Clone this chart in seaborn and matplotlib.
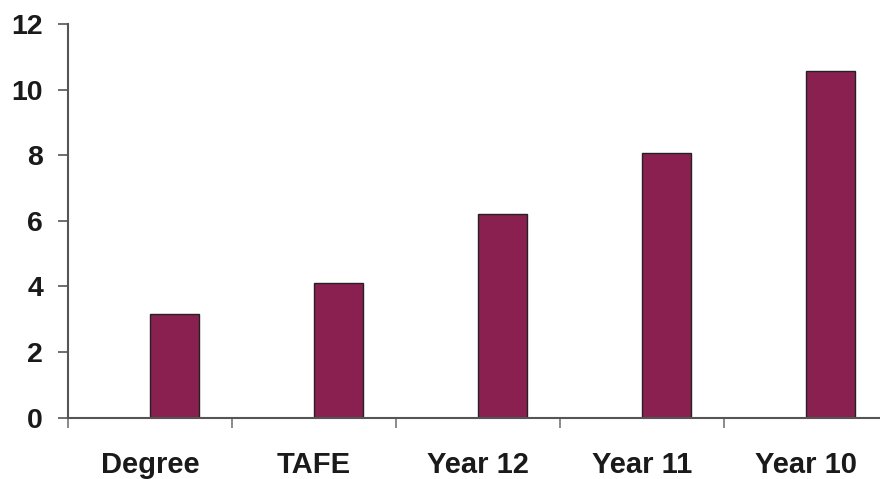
import matplotlib
matplotlib.use("Agg")
import matplotlib.pyplot as plt
import seaborn as sns
import pandas as pd
import numpy as np

categories = ["Degree", "TAFE", "Year 12", "Year 11", "Year 10"]
values = [3.15, 4.11, 6.21, 8.06, 10.58]
series = ["B"] * len(categories)
yticks = [0, 2, 4, 6, 8, 10, 12]

df = pd.DataFrame({"category": categories, "value": values, "series": series})

sns.set_style("white")
plt.rcParams["font.family"] = ["Liberation Sans", "DejaVu Sans"]

fig = plt.figure(figsize=(8.8, 4.79), dpi=100)
ax = fig.add_axes([68 / 880, 1 - 417.5 / 479, 1 - 68 / 880, (417.5 - 24) / 479])

bar_color = "#8A2050"
sns.barplot(data=df, x="category", y="value", hue="series", hue_order=["A", "B"],
            order=categories, palette={"A": bar_color, "B": bar_color},
            width=0.6, dodge=True, edgecolor="#222222", linewidth=1.0,
            saturation=1, legend=False, ax=ax, errorbar=None)

ax.set_xlim(-0.5, 4.45)
ax.set_ylim(0, 12)
ax.set_yticks(yticks)
ax.set_yticklabels([str(t) for t in yticks])
ax.set_xlabel("")
ax.set_ylabel("")

for side in ["top", "right"]:
    ax.spines[side].set_visible(False)
for side in ["left", "bottom"]:
    ax.spines[side].set_color("#555555")
    ax.spines[side].set_linewidth(1.5)

ax.set_xticks(np.arange(len(categories)))
ax.set_xticklabels(categories)
ax.set_xticks(np.arange(len(categories)) - 0.5, minor=True)
ax.tick_params(axis="x", which="major", length=0, pad=24, labelsize=21)
ax.tick_params(axis="x", which="minor", length=7, width=1.2, color="#777777", direction="out", bottom=True)
ax.tick_params(axis="y", which="major", length=7, width=1.2, color="#555555", direction="out", left=True, pad=11, labelsize=20.5)
for lab in ax.get_xticklabels() + ax.get_yticklabels():
    lab.set_fontweight("bold")
    lab.set_color("#1a1a1a")

fig.savefig("out.png", dpi=100)
